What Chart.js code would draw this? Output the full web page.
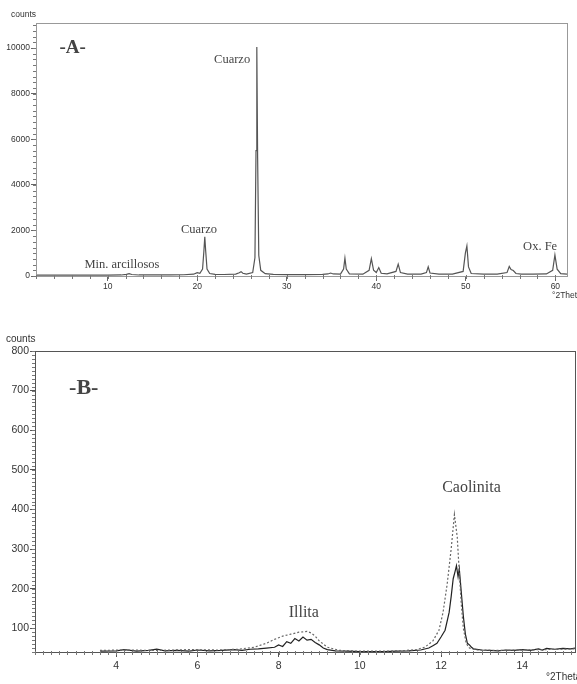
<!DOCTYPE html>
<html>
<head>
<meta charset="utf-8">
<script src="https://cdn.jsdelivr.net/npm/chart.js@4.4.1/dist/chart.umd.min.js"></script>
<style>
  html, body { margin: 0; padding: 0; background: #ffffff; width: 577px; height: 684px; overflow: hidden; }
  #wrapA { position: absolute; left: 0; top: 0; width: 577px; height: 302px; }
  #wrapB { position: absolute; left: 0; top: 302px; width: 577px; height: 382px; }
</style>
</head>
<body>
<div id="wrapA"><canvas id="chartA" width="577" height="302"></canvas></div>
<div id="wrapB"><canvas id="chartB" width="577" height="382"></canvas></div>
<script>
// ---------- Data: pattern A (bulk sample) ----------
const thetaA = [2, 4, 6, 8, 10, 11.5, 12.1, 12.4, 12.7, 13.5, 15, 17, 18.5, 19.6, 20.0, 20.3, 20.6, 20.75, 20.85, 20.95, 21.1, 21.4, 22, 23, 24.3, 24.7, 24.9, 25.1, 25.5, 26.2, 26.45, 26.57, 26.66, 26.75, 26.88, 27.1, 27.6, 28.5, 30, 32, 34, 34.6, 34.9, 35.2, 36.0, 36.35, 36.5, 36.65, 37.0, 38.5, 39.2, 39.45, 39.7, 40.0, 40.28, 40.55, 41.2, 42.2, 42.45, 42.7, 43.5, 45.0, 45.6, 45.8, 46.0, 47, 48.5, 49.7, 49.95, 50.12, 50.3, 50.6, 52, 53.5, 54.6, 54.85, 55.05, 55.3, 55.6, 56.2, 57.5, 59.0, 59.7, 59.95, 60.2, 60.6, 61.3];
const countsA = [40, 35, 35, 40, 40, 45, 70, 100, 65, 45, 45, 50, 55, 80, 150, 120, 300, 1100, 1720, 1100, 300, 110, 70, 65, 80, 140, 190, 120, 80, 150, 800, 5500, 10050, 5200, 900, 250, 100, 70, 60, 60, 70, 90, 130, 90, 80, 300, 780, 300, 90, 80, 250, 760, 250, 150, 370, 120, 90, 200, 520, 150, 80, 80, 150, 400, 130, 80, 80, 200, 1000, 1320, 400, 110, 80, 80, 150, 420, 280, 240, 110, 80, 80, 90, 250, 920, 300, 100, 80];
const xTicksA = [10, 20, 30, 40, 50, 60];
const yTicksA = [0, 2000, 4000, 6000, 8000, 10000];
const labelsA = [
  { text: '-A-', x: 6.1, y: 10000, bold: true, size: 19 },
  { text: 'Cuarzo', x: 23.9, y: 9490, size: 12.5 },
  { text: 'Cuarzo', x: 20.2, y: 2020, size: 12.5 },
  { text: 'Min. arcillosos', x: 11.6, y: 480, size: 12.5 },
  { text: 'Ox. Fe', x: 58.3, y: 1270, size: 12.5 }
];

// ---------- Data: pattern B (clay fraction) ----------
const thetaB1 = [3.6, 4.0, 4.2, 4.5, 4.8, 5.0, 5.2, 5.5, 5.8, 6.0, 6.3, 6.6, 6.9, 7.1, 7.3, 7.5, 7.7, 7.9, 8.0, 8.1, 8.2, 8.3, 8.4, 8.5, 8.6, 8.7, 8.8, 8.9, 9.0, 9.1, 9.2, 9.4, 9.7, 10.0, 10.3, 10.6, 10.9, 11.2, 11.5, 11.7, 11.8, 11.9, 12.0, 12.1, 12.2, 12.25, 12.3, 12.35, 12.38, 12.42, 12.45, 12.5, 12.55, 12.6, 12.65, 12.7, 12.75, 12.8, 13.0, 13.2, 13.4, 13.6, 13.8, 14.0, 14.2, 14.4, 14.5, 14.6, 14.8, 15.0, 15.2, 15.3];
const countsB1 = [42, 43, 46, 42, 44, 47, 43, 44, 42, 45, 43, 44, 46, 44, 47, 48, 50, 52, 58, 54, 66, 62, 74, 68, 78, 70, 72, 64, 58, 50, 46, 43, 42, 41, 41, 41, 42, 43, 45, 50, 56, 62, 78, 95, 140, 180, 225, 245, 258, 230, 250, 190, 130, 85, 62, 58, 52, 48, 45, 44, 43, 45, 44, 46, 44, 48, 45, 49, 47, 49, 48, 50];
const thetaB2 = [3.6, 4.2, 5.0, 5.8, 6.5, 7.0, 7.4, 7.7, 7.9, 8.1, 8.3, 8.5, 8.7, 8.8, 8.9, 9.0, 9.2, 9.5, 10, 10.5, 11, 11.4, 11.6, 11.8, 11.95, 12.05, 12.15, 12.25, 12.33, 12.4, 12.45, 12.5, 12.55, 12.62, 12.7, 12.9, 13.5, 14, 14.5, 15, 15.3];
const countsB2 = [44, 45, 44, 46, 45, 47, 52, 62, 72, 80, 85, 90, 92, 88, 80, 68, 52, 44, 42, 42, 43, 46, 52, 68, 95, 140, 210, 300, 387, 330, 240, 160, 100, 62, 50, 45, 44, 45, 46, 47, 48];
const xTicksB = [4, 6, 8, 10, 12, 14];
const yTicksB = [100, 200, 300, 400, 500, 600, 700, 800];
const labelsB = [
  { text: '-B-', x: 3.2, y: 705, bold: true, size: 22 },
  { text: 'Caolinita', x: 12.75, y: 455, size: 16 },
  { text: 'Illita', x: 8.62, y: 138, size: 16 }
];

function pts(xs, ys) { return xs.map((x, i) => ({ x: x, y: ys[i] })); }

function decorPlugin(opts) {
  return {
    id: 'decor',
    afterDraw(chart) {
      const ctx = chart.ctx, a = chart.chartArea, xs = chart.scales.x, ys = chart.scales.y;
      ctx.save();
      ctx.strokeStyle = opts.frameColor;
      ctx.lineWidth = 1;
      ctx.strokeRect(Math.round(a.left) + 0.5, Math.round(a.top) + 0.5, Math.round(a.right - a.left), Math.round(a.bottom - a.top));
      ctx.strokeStyle = opts.tickColor;
      ctx.beginPath();
      for (let v = opts.xMinorStart; v <= xs.max + 1e-9; v += opts.xMinorStep) {
        const px = Math.round(xs.getPixelForValue(v)) + 0.5;
        ctx.moveTo(px, a.bottom - 1); ctx.lineTo(px, a.bottom + 3);
      }
      for (let v = opts.yMinorStart; v <= ys.max + 1e-9; v += opts.yMinorStep) {
        const py = Math.round(ys.getPixelForValue(v)) + 0.5;
        ctx.moveTo(a.left - 3, py); ctx.lineTo(a.left, py);
      }
      ctx.stroke();
      ctx.fillStyle = '#333';
      ctx.font = opts.axisFont + 'px "Liberation Sans", Arial, sans-serif';
      ctx.textBaseline = 'middle';
      ctx.textAlign = 'left';
      ctx.fillText('counts', opts.countsX, a.top - opts.countsDy);
      ctx.fillText('°2Theta', opts.thetaX, opts.thetaY);
      ctx.fillStyle = '#444';
      ctx.textAlign = 'center';
      opts.labels.forEach(l => {
        ctx.font = (l.bold ? 'bold ' : '') + l.size + 'px "Liberation Serif", "Times New Roman", serif';
        ctx.fillText(l.text, xs.getPixelForValue(l.x), ys.getPixelForValue(l.y));
      });
      ctx.restore();
    }
  };
}

function makeScales(cfg) {
  return {
    x: {
      type: 'linear', min: cfg.xmin, max: cfg.xmax,
      afterFit: s => { s.height = cfg.xh; },
      afterBuildTicks: s => { s.ticks = cfg.xt.map(v => ({ value: v })); },
      ticks: { autoSkip: false, maxRotation: 0, padding: cfg.xpad, color: '#333',
               callback: v => String(v),
               font: { family: '"Liberation Sans", Arial, sans-serif', size: cfg.fs } },
      grid: { drawOnChartArea: false, drawTicks: true, tickLength: 5, color: cfg.tc },
      border: { display: true, color: cfg.axisColor }
    },
    y: {
      type: 'linear', min: cfg.ymin, max: cfg.ymax,
      afterFit: s => { s.width = cfg.yw; },
      afterBuildTicks: s => { s.ticks = cfg.yt.map(v => ({ value: v })); },
      ticks: { autoSkip: false, padding: 1, color: '#333',
               callback: v => String(v),
               font: { family: '"Liberation Sans", Arial, sans-serif', size: cfg.fs } },
      grid: { drawOnChartArea: false, drawTicks: true, tickLength: 5, color: cfg.tc },
      border: { display: true, color: cfg.axisColor }
    }
  };
}

const common = {
  responsive: false, animation: false, devicePixelRatio: 1,
  plugins: { legend: { display: false }, tooltip: { enabled: false } },
  elements: { point: { radius: 0 }, line: { tension: 0 } }
};

new Chart(document.getElementById('chartA'), {
  type: 'scatter',
  data: { datasets: [{ data: pts(thetaA, countsA), showLine: true, borderColor: '#555', borderWidth: 1.2, pointRadius: 0 }] },
  options: Object.assign({}, common, {
    layout: { padding: { left: 0, right: 10, top: 23, bottom: 0 } },
    scales: makeScales({ xmin: 2, xmax: 61.3, ymin: 0, ymax: 11100, xt: xTicksA, yt: yTicksA,
                         xh: 26, yw: 36, fs: 8.5, xpad: 1, tc: '#666', axisColor: '#666' })
  }),
  plugins: [decorPlugin({ frameColor: '#999', tickColor: '#777', xMinorStart: 2, xMinorStep: 2, yMinorStart: 0, yMinorStep: 250,
                          axisFont: 8.5, countsX: 11, countsDy: 8, thetaX: 552, thetaY: 296, labels: labelsA })]
});

new Chart(document.getElementById('chartB'), {
  type: 'scatter',
  data: { datasets: [
    { data: pts(thetaB2, countsB2), showLine: true, borderColor: '#666', borderWidth: 1.2, borderDash: [2, 2], pointRadius: 0 },
    { data: pts(thetaB1, countsB1), showLine: true, borderColor: '#222', borderWidth: 1.2, pointRadius: 0 }
  ] },
  options: Object.assign({}, common, {
    layout: { padding: { left: 0, right: 2, top: 49, bottom: 0 } },
    scales: makeScales({ xmin: 2, xmax: 15.3, ymin: 40, ymax: 800, xt: xTicksB, yt: yTicksB,
                         xh: 32, yw: 35, fs: 10.5, xpad: 3, tc: '#555', axisColor: '#555' })
  }),
  plugins: [decorPlugin({ frameColor: '#555', tickColor: '#777', xMinorStart: 2, xMinorStep: 0.2, yMinorStart: 40, yMinorStep: 10,
                          axisFont: 10, countsX: 6, countsDy: 12, thetaX: 546, thetaY: 375, labels: labelsB })]
});
</script>
</body>
</html>
